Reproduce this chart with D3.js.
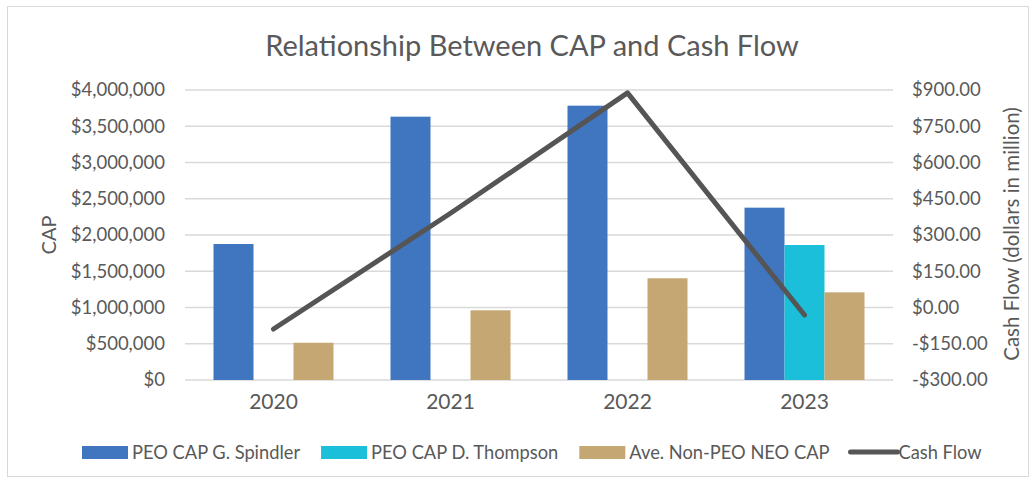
<!DOCTYPE html>
<html>
<head>
<meta charset="utf-8">
<script src="https://cdn.jsdelivr.net/npm/d3@7"></script>
<style>
  body { margin: 0; background: #fff; }
  text { font-family: Lato, "Open Sans", sans-serif; fill: #595959; }
</style>
</head>
<body>
<svg id="chart" width="1036" height="483"></svg>
<script>
// data
const years = ['2020', '2021', '2022', '2023'];
const seriesNames = ['PEO CAP G. Spindler', 'PEO CAP D. Thompson', 'Ave. Non-PEO NEO CAP'];
const spindler = [1876000, 3632000, 3784000, 2377000];
const thompson = [null, null, null, 1862000];
const nonPeo = [514000, 961000, 1403000, 1209000];
const cashFlow = [-89, 390, 888, -31];
const capTicks = [0, 500000, 1000000, 1500000, 2000000, 2500000, 3000000, 3500000, 4000000];
const cashTicks = [-300, -150, 0, 150, 300, 450, 600, 750, 900];

const colors = ['#4075c0', '#1bbfda', '#c5a773'];
const lineColor = '#555555';

const svg = d3.select('#chart');
const plot = { left: 185, right: 893, top: 90, bottom: 380 };

// outer frame
svg.append('rect')
  .attr('x', 7.5).attr('y', 6.5)
  .attr('width', 1021).attr('height', 470)
  .attr('fill', 'none')
  .attr('stroke', '#d9d9d9');

// title
svg.append('text')
  .attr('x', 532).attr('y', 56)
  .style('text-anchor', 'middle')
  .style('font-size', '29px')
  .text('Relationship Between CAP and Cash Flow');

// scales
const x0 = d3.scaleBand()
  .domain(years)
  .range([plot.left, plot.right])
  .paddingInner(0).paddingOuter(0);

const x1 = d3.scaleBand()
  .domain(seriesNames)
  .range([0, x0.bandwidth()])
  .paddingInner(0).paddingOuter(0.7125);

const yLeft = d3.scaleLinear().domain([0, 4000000]).range([plot.bottom, plot.top]);
const yRight = d3.scaleLinear().domain([-300, 900]).range([plot.bottom, plot.top]);

// gridlines
svg.append('g')
  .selectAll('line')
  .data(capTicks)
  .enter()
  .append('line')
  .attr('x1', plot.left).attr('x2', plot.right)
  .attr('y1', d => yLeft(d)).attr('y2', d => yLeft(d))
  .attr('stroke', '#d9d9d9')
  .attr('stroke-width', 1.5);

// left axis
const leftAxis = svg.append('g')
  .attr('transform', `translate(${plot.left}, 0)`)
  .call(d3.axisLeft(yLeft).tickValues(capTicks).tickFormat(d3.format('$,')).tickSize(0).tickPadding(20));
leftAxis.select('.domain').remove();
leftAxis.selectAll('text').style('font-size', '18.5px').attr('fill', '#595959');

// right axis
const cashFmt = v => (v < 0 ? '-$' : '$') + d3.format('.2f')(Math.abs(v));
const rightAxis = svg.append('g')
  .attr('transform', `translate(${plot.right}, 0)`)
  .call(d3.axisRight(yRight).tickValues(cashTicks).tickFormat(cashFmt).tickSize(0).tickPadding(19));
rightAxis.select('.domain').remove();
rightAxis.selectAll('text').style('font-size', '18.5px').attr('fill', '#595959');

// bottom axis
const bottomAxis = svg.append('g')
  .attr('transform', `translate(0, ${plot.bottom})`)
  .call(d3.axisBottom(x0).tickSize(0).tickPadding(14));
bottomAxis.select('.domain').remove();
bottomAxis.selectAll('text').style('font-size', '21px').attr('fill', '#595959');

// axis titles
svg.append('text')
  .attr('transform', 'rotate(-90)')
  .attr('x', -235).attr('y', 56)
  .style('text-anchor', 'middle')
  .style('font-size', '20px')
  .text('CAP');

svg.append('text')
  .attr('transform', 'rotate(-90)')
  .attr('x', -234).attr('y', 1019)
  .style('text-anchor', 'middle')
  .style('font-size', '20.5px')
  .text('Cash Flow (dollars in million)');

// bars
const seriesData = [spindler, thompson, nonPeo];
seriesData.forEach((vals, si) => {
  svg.append('g')
    .selectAll('rect')
    .data(years.map((yr, i) => ({ yr: yr, v: vals[i] })).filter(d => d.v != null))
    .enter()
    .append('rect')
    .attr('x', d => x0(d.yr) + x1(seriesNames[si]))
    .attr('y', d => yLeft(d.v))
    .attr('width', x1.bandwidth())
    .attr('height', d => yLeft(0) - yLeft(d.v))
    .attr('fill', colors[si]);
});

// cash flow line
const line = d3.line()
  .x((d, i) => x0(years[i]) + x0.bandwidth() / 2)
  .y(d => yRight(d));

svg.append('path')
  .datum(cashFlow)
  .attr('d', line)
  .attr('fill', 'none')
  .attr('stroke', lineColor)
  .attr('stroke-width', 5)
  .attr('stroke-linecap', 'round')
  .attr('stroke-linejoin', 'round');

// legend
const legend = svg.append('g').attr('transform', 'translate(82, 452)');
const legendItems = seriesNames.map((n, i) => ({ name: n, color: colors[i], type: 'bar' }))
  .concat([{ name: 'Cash Flow', color: lineColor, type: 'line' }]);

let lx = 0;
legendItems.forEach(item => {
  if (item.type === 'bar') {
    legend.append('rect')
      .attr('x', lx).attr('y', -6)
      .attr('width', 46).attr('height', 13)
      .attr('fill', item.color);
    lx += 50;
  } else {
    legend.append('line')
      .attr('x1', lx).attr('x2', lx + 47)
      .attr('y1', 0).attr('y2', 0)
      .attr('stroke', item.color)
      .attr('stroke-width', 5)
      .attr('stroke-linecap', 'round');
    lx += 48;
  }
  const t = legend.append('text')
    .attr('x', lx).attr('y', 7)
    .style('font-size', '18.3px')
    .text(item.name);
  lx += t.node().getComputedTextLength() + 21;
});
</script>
</body>
</html>
